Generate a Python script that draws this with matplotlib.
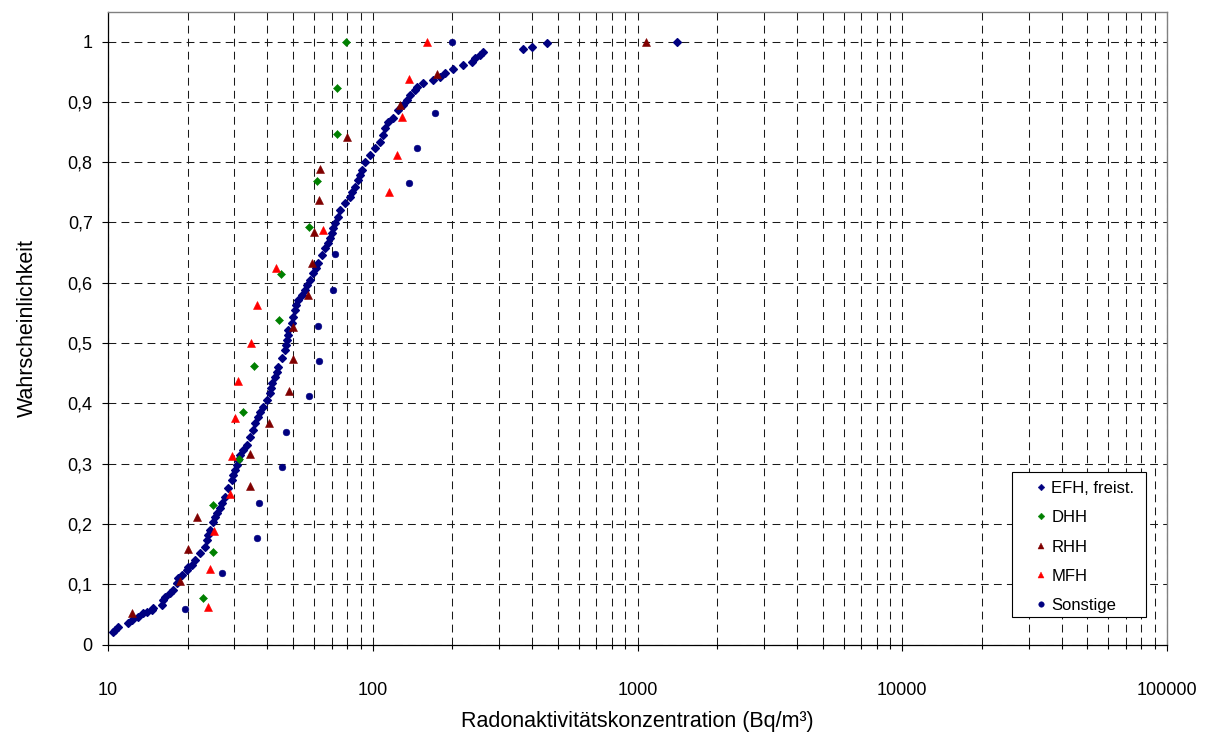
import matplotlib
matplotlib.use("Agg")
import matplotlib.pyplot as plt
from matplotlib.ticker import FixedLocator, FuncFormatter, NullFormatter
from matplotlib.patches import Rectangle

plt.rcParams['font.family'] = ['Liberation Sans', 'DejaVu Sans']

# ---------------- data ----------------
efh_x = [10.4, 10.6, 10.9, 11.9, 12.3, 13.0, 13.6, 14.0, 14.7, 14.8,
         16.0, 16.1, 16.4, 17.2, 17.6, 18.2, 18.4, 19.0, 19.9, 20.0,
         20.8, 21.3, 22.3, 23.2, 23.7, 23.9, 24.3, 24.9, 25.4, 25.8,
         26.5, 27.0, 27.7, 28.4, 29.4, 29.7, 30.2, 30.7, 31.0, 31.5,
         32.4, 33.5, 34.4, 35.3, 35.9, 36.9, 37.5, 38.5, 39.9, 40.9,
         41.3, 41.6, 42.7, 43.5, 43.9, 45.4, 46.6, 47.0, 47.4, 47.9,
         47.9, 49.5, 50.0, 50.9, 51.3, 52.2, 54.0, 55.5, 56.4, 57.9,
         59.5, 61.0, 62.1, 64.3, 66.0, 67.8, 68.9, 70.2, 70.8, 72.0,
         73.9, 75.2, 78.6, 82.0, 83.5, 85.7, 88.0, 89.5, 91.1, 93.5,
         97.6, 102.0, 106.5, 109.3, 111.2, 114.2, 119.3, 124.6, 130.1, 134.7,
         138.3, 144.4, 146.9, 154.8, 168.9, 179.5, 187.5, 201.0, 219.3, 237.1,
         243.4, 254.2, 260.9, 369, 400, 455, 1410]
efh_p = [0.021, 0.024, 0.029, 0.036, 0.041, 0.046, 0.052, 0.054, 0.057, 0.061,
         0.066, 0.074, 0.079, 0.085, 0.090, 0.102, 0.110, 0.115, 0.124, 0.129,
         0.132, 0.140, 0.152, 0.162, 0.173, 0.182, 0.190, 0.203, 0.211, 0.218,
         0.226, 0.235, 0.245, 0.260, 0.273, 0.281, 0.289, 0.298, 0.306, 0.314,
         0.322, 0.331, 0.344, 0.356, 0.367, 0.377, 0.385, 0.394, 0.405, 0.417,
         0.425, 0.434, 0.444, 0.452, 0.460, 0.475, 0.488, 0.497, 0.505, 0.513,
         0.522, 0.533, 0.543, 0.555, 0.563, 0.571, 0.580, 0.588, 0.596, 0.605,
         0.616, 0.624, 0.633, 0.646, 0.658, 0.666, 0.674, 0.683, 0.691, 0.699,
         0.709, 0.721, 0.732, 0.742, 0.750, 0.759, 0.770, 0.779, 0.787, 0.800,
         0.812, 0.823, 0.833, 0.845, 0.856, 0.866, 0.874, 0.886, 0.895, 0.903,
         0.911, 0.919, 0.924, 0.931, 0.936, 0.941, 0.948, 0.954, 0.961, 0.966,
         0.973, 0.978, 0.982, 0.987, 0.991, 0.997, 1.0]

dhh_x = [22.9, 24.9, 24.9, 31.2, 32.4, 35.6, 44.2, 45.0, 57.4, 61.6, 73.0, 73.5, 79.3]
dhh_p = [0.077, 0.154, 0.231, 0.308, 0.385, 0.462, 0.538, 0.615, 0.692, 0.769, 0.846, 0.923, 1.0]

rhh_x = [12.3, 18.7, 20.0, 21.7, 34.4, 34.4, 40.6, 48.3, 50.0, 50.0,
         56.9, 58.9, 60.0, 62.7, 63.2, 79.9, 126.7, 174.9, 1077]
rhh_p = [0.053, 0.105, 0.158, 0.211, 0.263, 0.316, 0.368, 0.421, 0.474, 0.526,
         0.579, 0.632, 0.684, 0.737, 0.789, 0.842, 0.895, 0.947, 1.0]

mfh_x = [23.9, 24.3, 25.1, 28.9, 29.4, 30.2, 31.0, 34.7, 36.5, 43.1,
         64.9, 115.2, 123.5, 129.0, 137.1, 160.3]
mfh_p = [0.0625, 0.125, 0.1875, 0.25, 0.3125, 0.375, 0.4375, 0.5, 0.5625, 0.625,
         0.6875, 0.75, 0.8125, 0.875, 0.9375, 1.0]

son_x = [19.5, 27.0, 36.5, 37.2, 45.4, 47.0, 57.4, 62.7, 62.1, 70.8,
         72.0, 137.1, 146.9, 171.9, 199.3]
son_p = [0.059, 0.118, 0.176, 0.235, 0.294, 0.353, 0.412, 0.471, 0.529, 0.588,
         0.647, 0.765, 0.824, 0.882, 1.0]

series_labels = ["EFH, freist.", "DHH", "RHH", "MFH", "Sonstige"]
x_ticks = [10, 100, 1000, 10000, 100000]
y_ticks = [0, 0.1, 0.2, 0.3, 0.4, 0.5, 0.6, 0.7, 0.8, 0.9, 1.0]
x_label = "Radonaktivitätskonzentration (Bq/m³)"
y_label = "Wahrscheinlichkeit"

# ---------------- figure ----------------
W, H = 1221, 733
fig = plt.figure(figsize=(W / 100, H / 100), dpi=100)
L, R, T, B = 108, 1167, 12, 644.5
ax = fig.add_axes([L / W, 1 - B / H, (R - L) / W, (B - T) / H])

ax.set_xscale('log')
ax.set_xlim(10, 100000)
ax.set_ylim(0, 1.049)

minor = [m * 10 ** e for e in range(1, 5) for m in range(2, 10)]
ax.xaxis.set_major_locator(FixedLocator(x_ticks))
ax.xaxis.set_minor_locator(FixedLocator(minor))
ax.xaxis.set_major_formatter(FuncFormatter(lambda v, p: f"{int(round(v))}"))
ax.xaxis.set_minor_formatter(NullFormatter())
ax.yaxis.set_major_locator(FixedLocator(y_ticks))
ax.yaxis.set_major_formatter(FuncFormatter(
    lambda v, p: "0" if abs(v) < 1e-9 else ("1" if abs(v - 1) < 1e-9 else f"{v:.1f}".replace('.', ','))))

grid_kw = dict(color='#1a1a1a', linewidth=0.75, linestyle=(0, (7.5, 5)))
ax.grid(which='both', axis='x', **grid_kw)
ax.grid(which='major', axis='y', **grid_kw)
ax.set_axisbelow(True)

for s in ['top', 'right']:
    ax.spines[s].set_color('#808080')
    ax.spines[s].set_linewidth(1.0)
for s in ['left', 'bottom']:
    ax.spines[s].set_color('#000000')
    ax.spines[s].set_linewidth(0.9)

ax.tick_params(axis='x', which='major', direction='out', length=4, width=0.8,
               labelsize=13, pad=23)
ax.tick_params(axis='x', which='minor', direction='out', length=3, width=0.8)
ax.tick_params(axis='y', which='major', direction='out', length=4, width=0.8,
               labelsize=13, pad=7)

ax.set_xlabel(x_label, fontsize=15.5, labelpad=9)
ax.set_ylabel(y_label, fontsize=15.5, labelpad=21.5)

navy = '#000080'
ax.plot(efh_x, efh_p, linestyle='none', marker='D', ms=4.3, color=navy, mec=navy, mew=0.9,
        label=series_labels[0])
ax.plot(dhh_x, dhh_p, linestyle='none', marker='D', ms=3.8, color='#008000', mec='#008000', mew=0.4,
        label=series_labels[1])
ax.plot(rhh_x, rhh_p, linestyle='none', marker='^', ms=5.5, color='#800000', mec='#800000', mew=0.4,
        label=series_labels[2])
ax.plot(mfh_x, mfh_p, linestyle='none', marker='^', ms=5.5, color='#ff0000', mec='#ff0000', mew=0.4,
        label=series_labels[3])
ax.plot(son_x, son_p, linestyle='none', marker='o', ms=4.8, color=navy, mec=navy, mew=0.4,
        label=series_labels[4])

# legend box (frame drawn separately to match the reference padding)
ax.add_patch(Rectangle((1012 / W, 1 - 617 / H), (1146 - 1012) / W, (617 - 472) / H,
                       transform=fig.transFigure, facecolor='white',
                       edgecolor='#000000', linewidth=0.8, zorder=4, clip_on=False))
leg = ax.legend(loc='upper left', bbox_to_anchor=(1033 / W, 1 - 481 / H),
                bbox_transform=fig.transFigure, fontsize=12, frameon=False,
                numpoints=1, handlelength=0.9, handletextpad=0.2,
                labelspacing=0.86, borderpad=0.0, borderaxespad=0)
leg.set_zorder(6)
for h, ms in zip(leg.legend_handles, [3.4, 3.4, 4.6, 4.6, 4.0]):
    h.set_markersize(ms)
    h.set_markeredgewidth(0.3)

fig.savefig('out.png', dpi=100, facecolor='white')
